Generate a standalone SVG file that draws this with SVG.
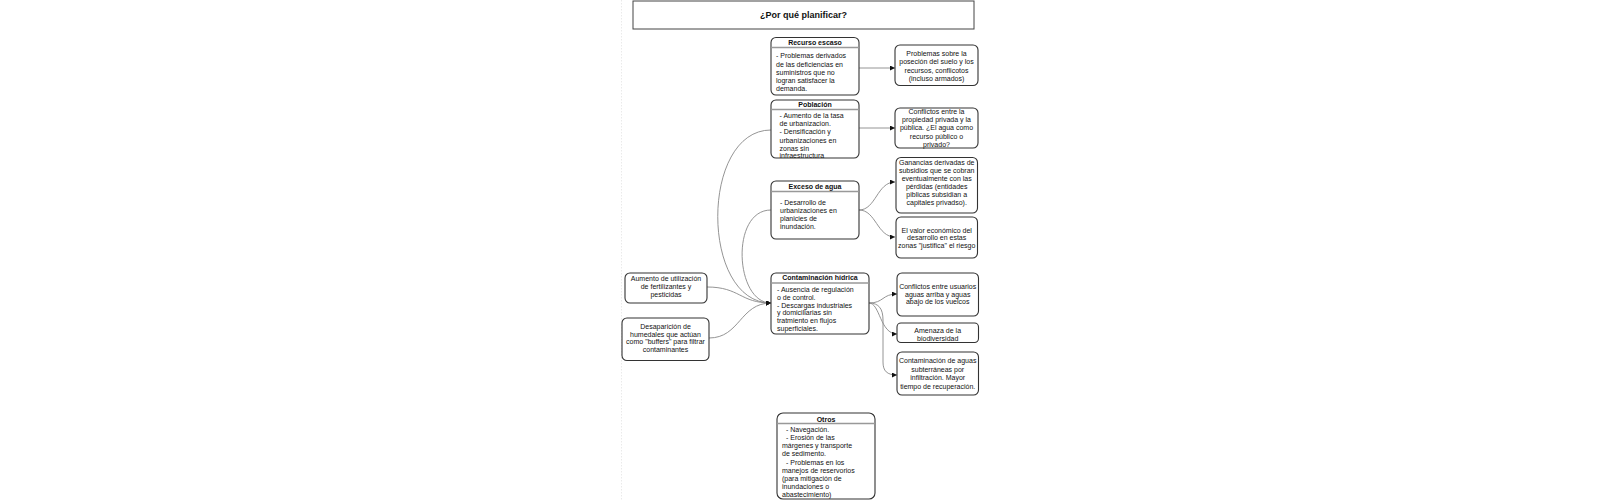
<svg xmlns="http://www.w3.org/2000/svg" width="1600" height="500" viewBox="0 0 1600 500">
<defs>
<marker id="arr" viewBox="0 0 10 10" refX="10" refY="5" markerWidth="5" markerHeight="5" markerUnits="userSpaceOnUse" orient="auto">
<path d="M0,0 L10,5 L0,10 z" fill="#111"/>
</marker>
<style>
.box{fill:#fff;stroke:#333;stroke-width:1.1}
.div{stroke:#999;stroke-width:1.3}
.t{font-family:"Liberation Sans",Arial,sans-serif;font-size:7px;fill:#111}
.c{text-anchor:middle}
.h{font-family:"Liberation Sans",Arial,sans-serif;font-size:7px;font-weight:bold;fill:#111;text-anchor:middle}
.ttl{font-family:"Liberation Sans",Arial,sans-serif;font-size:9px;font-weight:bold;fill:#111;text-anchor:middle}
.e{fill:none;stroke:#888;stroke-width:0.9;marker-end:url(#arr)}
</style>
</defs>
<rect width="1600" height="500" fill="#fff"/>
<line x1="621.5" y1="0" x2="621.5" y2="500" stroke="#e4e4e4" stroke-width="0.8" stroke-dasharray="1.5,1.5"/>

<g id="title">
<rect x="633" y="1" width="341" height="28" fill="#fff" stroke="#444" stroke-width="1"/>
<text class="ttl" x="803.5" y="18">¿Por qué planificar?</text>
</g>

<g id="connectors">
<path class="e" d="M859,68 L895,68"/>
<path class="e" d="M859,128 L895,128"/>
<path class="e" d="M859,210 C876,210 877,182 895,182"/>
<path class="e" d="M859,210 C876,210 877,237 895,237"/>
<path class="e" d="M869,303 C884,303 882,294 897,294"/>
<path class="e" d="M869,303 C880,303 880,334 897,334"/>
<path class="e" d="M869,303 C879,303 883,309 883,320 L883,362 C883,371 887,375 897,375"/>
<path class="e" d="M771,130 C700,130 700,303 771,303"/>
<path class="e" d="M771,210 C730,210 735,303 771,303"/>
<path class="e" d="M707,287 C740,287 740,303 771,303"/>
<path class="e" d="M709,338 C740,338 740,303 771,303"/>
</g>

<g id="recurso">
<rect class="box" x="771" y="37.5" width="88" height="57.5" rx="5"/>
<line class="div" x1="771" y1="47.5" x2="859" y2="47.5"/>
<text class="h" x="815" y="45">Recurso escaso</text>
<text class="t"><tspan x="776" y="58.2">- Problemas derivados</tspan><tspan x="776" y="66.5">de las deficiencias en</tspan><tspan x="776" y="74.8">suministros que no</tspan><tspan x="776" y="83.1">logran satisfacer la</tspan><tspan x="776" y="91.4">demanda.</tspan></text>
</g>

<g id="problemas-suelo">
<rect class="box" x="895" y="45" width="83" height="40.5" rx="5"/>
<text class="t c"><tspan x="936.5" y="56">Problemas sobre la</tspan><tspan x="936.5" y="64.3">poseción del suelo y los</tspan><tspan x="936.5" y="72.6">recursos, conflicotos</tspan><tspan x="936.5" y="80.6">(incluso armados)</tspan></text>
</g>

<g id="poblacion">
<rect class="box" x="771" y="100" width="88" height="58" rx="5"/>
<line class="div" x1="771" y1="109.5" x2="859" y2="109.5"/>
<text class="h" x="815" y="107.3">Población</text>
<text class="t"><tspan x="779.5" y="117.8">- Aumento de la tasa</tspan><tspan x="779.5" y="126">de urbanizacion.</tspan><tspan x="779.5" y="134.4">-  Densificación y</tspan><tspan x="779.5" y="142.7">urbanizaciones en</tspan><tspan x="779.5" y="150.8">zonas sin</tspan><tspan x="779.5" y="158">infraestructura</tspan></text>
</g>

<g id="conflictos-propiedad">
<rect class="box" x="895" y="108" width="83" height="40" rx="5"/>
<text class="t c"><tspan x="936.5" y="113.7">Conflictos entre la</tspan><tspan x="936.5" y="122">propiedad privada y la</tspan><tspan x="936.5" y="130.4">pública. ¿El agua como</tspan><tspan x="936.5" y="138.5">recurso público o</tspan><tspan x="936.5" y="146.7">privado?</tspan></text>
</g>

<g id="ganancias">
<rect class="box" x="896" y="157.5" width="81.5" height="55.5" rx="5"/>
<text class="t c"><tspan x="936.7" y="165.4">Ganancias derivadas de</tspan><tspan x="936.7" y="173.4">subsidios que se cobran</tspan><tspan x="936.7" y="181">eventualmente con las</tspan><tspan x="936.7" y="188.7">pérdidas (entidades</tspan><tspan x="936.7" y="196.7">piblicas subsidian a</tspan><tspan x="936.7" y="205">capitales privadso).</tspan></text>
</g>

<g id="exceso">
<rect class="box" x="771" y="181" width="88" height="58" rx="5"/>
<line class="div" x1="771" y1="191.5" x2="859" y2="191.5"/>
<text class="h" x="815" y="189.2">Exceso de agua</text>
<text class="t"><tspan x="780" y="205.4">- Desarrollo de</tspan><tspan x="780" y="213.4">urbanizaciones en</tspan><tspan x="780" y="221.4">planicies de</tspan><tspan x="780" y="229.4">inundación.</tspan></text>
</g>

<g id="valor">
<rect class="box" x="896" y="217" width="81.5" height="41" rx="5"/>
<text class="t c"><tspan x="936.7" y="232.7">El valor económico del</tspan><tspan x="936.7" y="240">desarrollo en estas</tspan><tspan x="936.7" y="247.7">zonas "justifica" el riesgo</tspan></text>
</g>

<g id="aumento">
<rect class="box" x="625" y="273" width="82" height="30" rx="5"/>
<text class="t c"><tspan x="666" y="281">Aumento de utilización</tspan><tspan x="666" y="288.7">de fertilizantes y</tspan><tspan x="666" y="296.7">pesticidas</tspan></text>
</g>

<g id="desaparicion">
<rect class="box" x="622" y="318" width="87" height="42.5" rx="5"/>
<text class="t c"><tspan x="665.5" y="328.7">Desaparición de</tspan><tspan x="665.5" y="336.7">humedales que actúan</tspan><tspan x="665.5" y="344.4">como "buffers" para filtrar</tspan><tspan x="665.5" y="352">contaminantes</tspan></text>
</g>

<g id="contaminacion">
<rect class="box" x="771" y="273" width="98" height="61" rx="5"/>
<line class="div" x1="771" y1="283" x2="869" y2="283"/>
<text class="h" x="820" y="279.5">Contaminación hídrica</text>
<text class="t"><tspan x="777" y="292">- Ausencia de regulación</tspan><tspan x="777" y="300">o de control.</tspan><tspan x="777" y="307.7">- Descargas industriales</tspan><tspan x="777" y="315.4">y domiciliarias sin</tspan><tspan x="777" y="323.4">tratmiento en flujos</tspan><tspan x="777" y="331">superficiales.</tspan></text>
</g>

<g id="conflictos-usuarios">
<rect class="box" x="897" y="273" width="81.5" height="43" rx="5"/>
<text class="t c"><tspan x="937.7" y="288.7">Conflictos entre usuarios</tspan><tspan x="937.7" y="296.7">aguas arriba y aguas</tspan><tspan x="937.7" y="304.4">abajo de los vuelcos</tspan></text>
</g>

<g id="amenaza">
<rect class="box" x="897" y="323" width="81.5" height="19.5" rx="4"/>
<text class="t c"><tspan x="937.7" y="333.4">Amenaza de la</tspan><tspan x="937.7" y="341">biodiversidad</tspan></text>
</g>

<g id="contaminacion-aguas">
<rect class="box" x="897" y="352" width="81.5" height="43" rx="5"/>
<text class="t c"><tspan x="937.7" y="363.4">Contaminación de aguas</tspan><tspan x="937.7" y="372">subterráneas por</tspan><tspan x="937.7" y="380">infiltración. Mayor</tspan><tspan x="937.7" y="388.7">tiempo de recuperación.</tspan></text>
</g>

<g id="otros">
<rect class="box" x="777" y="413" width="98" height="86" rx="6"/>
<line class="div" x1="777" y1="423.5" x2="875" y2="423.5"/>
<text class="h" x="826" y="421.5">Otros</text>
<text class="t"><tspan x="786" y="431.7">- Navegación.</tspan><tspan x="786" y="440">- Erosión de las</tspan><tspan x="782" y="448.4">márgenes y transporte</tspan><tspan x="782" y="456.4">de sedimento.</tspan><tspan x="786" y="464.7">- Problemas en los</tspan><tspan x="782" y="472.7">manejos de reservorios</tspan><tspan x="782" y="481">(para mitigación de</tspan><tspan x="782" y="489.4">inundaciones o</tspan><tspan x="782" y="497.4">abastecimiento)</tspan></text>
</g>
</svg>
